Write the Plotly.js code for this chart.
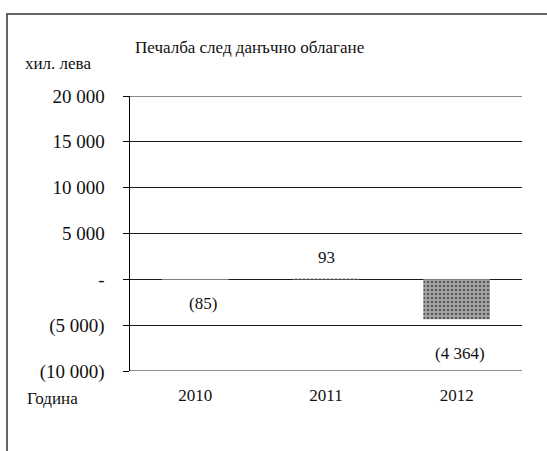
<!DOCTYPE html>
<html>
<head>
<meta charset="utf-8">
<script src="https://cdn.plot.ly/plotly-3.0.1.min.js"></script>
<style>
  html, body { margin: 0; padding: 0; background: #fff; }
  #chart { width: 547px; height: 451px; }
</style>
</head>
<body>
<div id="chart"></div>
<script>
// ---- data ----
const years = ['2010', '2011', '2012'];
const profit = [-85, 93, -4364];
const tickValues = [20000, 15000, 10000, 5000, 0, -5000, -10000];
const tickLabels = ['20 000', '15 000', '10 000', '5 000', '-', '(5 000)', '(10 000)'];
const chartTitle = 'Печалба след данъчно облагане';
const unitLabel = 'хил. лева';
const xLabel = 'Година';

function fmt(v) {
  const s = Math.abs(v).toString().replace(/\B(?=(\d{3})+(?!\d))/g, ' ');
  return v < 0 ? '(' + s + ')' : s;
}

const serif = 'Liberation Serif';

const trace = {
  type: 'bar',
  x: years,
  y: profit,
  marker: {
    color: ['#a8a8a8', '#ffffff', '#a8a8a8'],
    line: { width: 0 },
    pattern: {
      shape: '.', fillmode: 'overlay',
      fgcolor: ['#3a3a3a', '#cccccc', '#3a3a3a'],
      fgopacity: 0.8,
      size: 4, solidity: 0.35
    }
  },
  hoverinfo: 'skip'
};

// label offsets (pixels) relative to each bar's value
const labelShift = [[8, -23], [0, 21], [3, -34]];
const labelAnn = years.map((yr, i) => ({
  x: i, y: profit[i], xref: 'x', yref: 'y',
  text: fmt(profit[i]), showarrow: false,
  xshift: labelShift[i][0], yshift: labelShift[i][1],
  font: { family: serif, size: 17, color: '#111' }
}));

// outer gridlines (at the range ends) drawn explicitly from the tick values
const yMax = Math.max(...tickValues), yMin = Math.min(...tickValues);
const edgeGrid = [yMax, yMin].map(v => ({
  type: 'line', xref: 'paper', yref: 'y', x0: 0, x1: 1, y0: v, y1: v,
  line: { color: '#1a1a1a', width: 1 }, layer: 'below'
}));

const layout = {
  width: 547, height: 451,
  margin: { l: 130, r: 25, t: 96, b: 80 },
  paper_bgcolor: '#fff', plot_bgcolor: '#fff',
  showlegend: false,
  bargap: 0.49,
  title: {
    text: chartTitle,
    x: 135 / 547, xanchor: 'left', xref: 'container',
    y: 1 - 47 / 451, yanchor: 'middle', yref: 'container',
    font: { family: serif, size: 17, color: '#111' }
  },
  xaxis: {
    type: 'category',
    range: [-0.5, 2.5],
    showgrid: false, zeroline: false, showline: false,
    ticks: '',
    ticklabelstandoff: 12,
    tickfont: { family: serif, size: 17, color: '#111' },
    fixedrange: true
  },
  yaxis: {
    range: [yMin, yMax],
    tickvals: tickValues,
    ticktext: tickLabels,
    showgrid: true, gridcolor: '#1a1a1a', gridwidth: 1,
    zeroline: false,
    showline: true, linecolor: '#000', linewidth: 1.5,
    ticks: 'outside', ticklen: 6, tickcolor: '#000', tickwidth: 1,
    ticklabelstandoff: 14,
    tickfont: { family: serif, size: 19, color: '#111' },
    fixedrange: true
  },
  annotations: labelAnn.concat([
    { text: unitLabel, xref: 'paper', yref: 'paper', x: (23 - 130) / 392, y: (371 - 64) / 275,
      xanchor: 'left', yanchor: 'middle', showarrow: false,
      font: { family: serif, size: 17, color: '#111' } },
    { text: xLabel, xref: 'paper', yref: 'paper', x: (25 - 130) / 392, y: (371 - 398) / 275,
      xanchor: 'left', yanchor: 'middle', showarrow: false,
      font: { family: serif, size: 17, color: '#111' } }
  ]),
  shapes: edgeGrid.concat([
    { type: 'rect', xref: 'paper', yref: 'paper',
      x0: (7 - 130) / 392, x1: (570 - 130) / 392,
      y0: (371 - 480) / 275, y1: (371 - 14) / 275,
      line: { color: '#333', width: 1.5 }, fillcolor: 'rgba(0,0,0,0)', layer: 'below' }
  ])
};

Plotly.newPlot('chart', [trace], layout, { staticPlot: true, displayModeBar: false });
</script>
</body>
</html>
